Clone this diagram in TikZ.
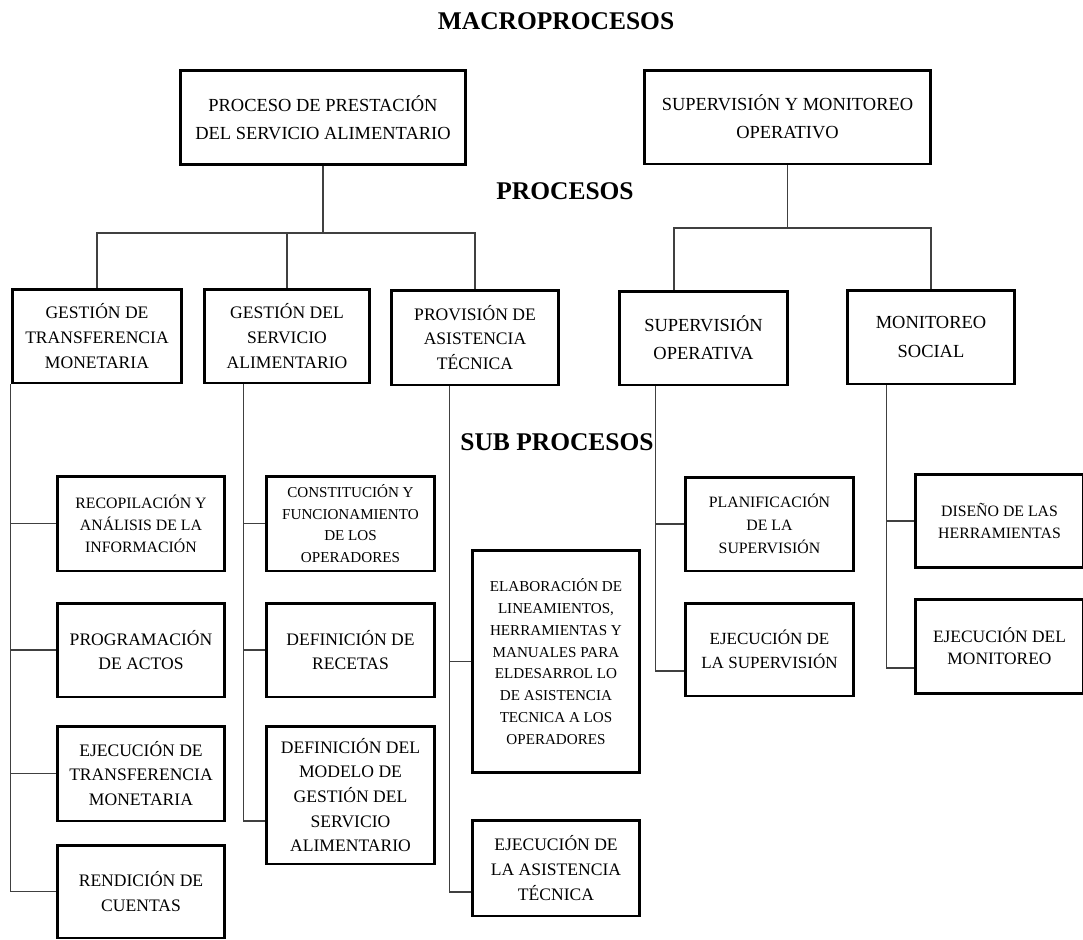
\documentclass[tikz,border=0pt]{standalone}
\usepackage{fontspec}
\setmainfont{Liberation Serif}

\tikzset{
  box/.style={draw,line width=1.7pt,align=center,inner sep=1pt,
    font=\fontsize{10}{14}\selectfont},
  macrobox/.style={box,minimum width=5.72cm,minimum height=1.9cm,
    font=\fontsize{10.5}{16}\selectfont},
  procbox/.style={box,minimum width=3.36cm,minimum height=1.88cm},
  subbox/.style={box,minimum width=3.36cm,minimum height=1.88cm},
  smallfont/.style={font=\fontsize{8.6}{12.4}\selectfont},
  title/.style={font=\bfseries\fontsize{14.5}{16}\selectfont},
  link/.style={draw=black!75,line width=0.6pt},
}

\begin{document}
\begin{tikzpicture}[x=0.02cm,y=-0.02cm] % pixel grid, y downwards
   \useasboundingbox (0,0) rectangle (1083,940);
   \node[title] (tMacro) at (556,21) {MACROPROCESOS};
   \node[title] (tProc) at (565,191) {PROCESOS};
   \node[title] (tSub) at (557,442) {SUB PROCESOS};
   % macroprocesos
   \node[macrobox] (mpA) at (323,117.5) {PROCESO DE PRESTACIÓN\\DEL SERVICIO ALIMENTARIO};
   \node[macrobox,minimum width=5.74cm,minimum height=1.88cm] (mpB) at (787.5,117)
      {SUPERVISIÓN Y MONITOREO\\OPERATIVO};
   % procesos
   \node[procbox,minimum width=3.4cm] (pGT) at (97,336) {GESTIÓN DE\\TRANSFERENCIA\\MONETARIA};
   \node[procbox,minimum width=3.32cm] (pGS) at (287,336) {GESTIÓN DEL\\SERVICIO\\ALIMENTARIO};
   \node[procbox,minimum height=1.9cm] (pPA) at (475,337.5) {PROVISIÓN DE\\ASISTENCIA\\TÉCNICA};
   \node[procbox,minimum width=3.38cm,font=\fontsize{10.5}{16}\selectfont] (pSO) at (703.5,338)
      {SUPERVISIÓN\\OPERATIVA};
   \node[procbox,font=\fontsize{10.5}{16}\selectfont] (pMS) at (931,337) {MONITOREO\\SOCIAL};
   % sub procesos
   \begin{scope}
    \node[subbox,font=\fontsize{9}{12.6}\selectfont,minimum height=1.9cm] (sRA) at (141,523.5)
       {RECOPILACIÓN Y\\ANÁLISIS DE LA\\INFORMACIÓN};
    \node[subbox] (sPA) at (141,650) {PROGRAMACIÓN\\DE ACTOS};
    \node[subbox,minimum height=1.9cm] (sET) at (141,773.5) {EJECUCIÓN DE\\TRANSFERENCIA\\MONETARIA};
    \node[subbox,minimum height=1.86cm] (sRC) at (141,891.5) {RENDICIÓN DE\\CUENTAS};
   \end{scope}
   \begin{scope}[every node/.append style={minimum width=3.34cm}]
    \node[subbox,smallfont,minimum height=1.9cm] (sCF) at (350.5,523.5)
       {CONSTITUCIÓN Y\\FUNCIONAMIENTO\\DE LOS\\OPERADORES};
    \node[subbox] (sDR) at (350.5,650) {DEFINICIÓN DE\\RECETAS};
    \node[subbox,minimum height=2.76cm] (sDM) at (350.5,795)
       {DEFINICIÓN DEL\\MODELO DE\\GESTIÓN DEL\\SERVICIO\\ALIMENTARIO};
   \end{scope}
   \begin{scope}
    \node[subbox,smallfont,minimum height=4.46cm] (sEL) at (556,661.5)
       {ELABORACIÓN DE\\LINEAMIENTOS,\\HERRAMIENTAS Y\\MANUALES PARA\\ELDESARROL LO\\DE ASISTENCIA\\TECNICA A LOS\\OPERADORES};
    \node[subbox,minimum height=1.92cm] (sEA) at (556,868) {EJECUCIÓN DE\\LA ASISTENCIA\\TÉCNICA};
   \end{scope}
   \begin{scope}[every node/.append style={minimum width=3.34cm}]
    \node[subbox,font=\fontsize{9}{13}\selectfont] (sPS) at (769.5,524)
       {PLANIFICACIÓN\\DE LA\\SUPERVISIÓN};
    \node[subbox,font=\fontsize{9.7}{13.6}\selectfont,minimum height=1.86cm] (sES) at (769.5,649.5)
       {EJECUCIÓN DE\\LA SUPERVISIÓN};
   \end{scope}
   \begin{scope}[every node/.append style={minimum width=3.26cm}]
    \node[subbox,font=\fontsize{9}{13}\selectfont,minimum height=1.86cm] (sDH) at (999.5,521)
       {DISEÑO DE LAS\\HERRAMIENTAS};
    \node[subbox,font=\fontsize{9.9}{12.5}\selectfont] (sEM) at (999.5,646.5)
       {EJECUCIÓN DEL\\MONITOREO};
   \end{scope}
   % macro -> procesos
   \coordinate (jA) at (323,233);
   \draw[link] (mpA.south) -- (jA);
   \draw[link] (pGT.north) |- (jA) -| (pPA.north);
   \draw[link] (pGS.north) -- (pGS.north |- jA);
   \coordinate (jB) at (787.5,228);
   \coordinate (kSO) at (674,228);
   \draw[link] (mpB.south) -- (jB);
   \draw[link] (kSO |- pSO.north) -- (kSO) -| (pMS.north);
   % procesos -> sub procesos
   \draw[link] (pGT.south west) |- (sRC.west);
   \draw[link] (pGT.west |- sRA.west) -- (sRA.west);
   \draw[link] (pGT.west |- sPA.west) -- (sPA.west);
   \draw[link] (pGT.west |- sET.west) -- (sET.west);
   \coordinate (tGS) at ([xshift=0.82cm]pGS.south west);
   \draw[link] (tGS) |- ([yshift=-0.52cm]sDM.west);
   \draw[link] (tGS |- sCF.west) -- (sCF.west);
   \draw[link] (tGS |- sDR.west) -- (sDR.west);
   \coordinate (tPA) at ([xshift=1.2cm]pPA.south west);
   \draw[link] (tPA) |- ([yshift=-0.48cm]sEA.west);
   \draw[link] (tPA |- sEL.west) -- (sEL.west);
   \coordinate (tSO) at ([xshift=0.76cm]pSO.south west);
   \draw[link] (tSO) |- ([yshift=-0.43cm]sES.west);
   \draw[link] (tSO |- sPS.west) -- (sPS.west);
   \coordinate (tMS) at ([xshift=0.82cm]pMS.south west);
   \draw[link] (tMS) |- ([yshift=-0.43cm]sEM.west);
   \draw[link] (tMS |- sDH.west) -- (sDH.west);
\end{tikzpicture}
\end{document}
